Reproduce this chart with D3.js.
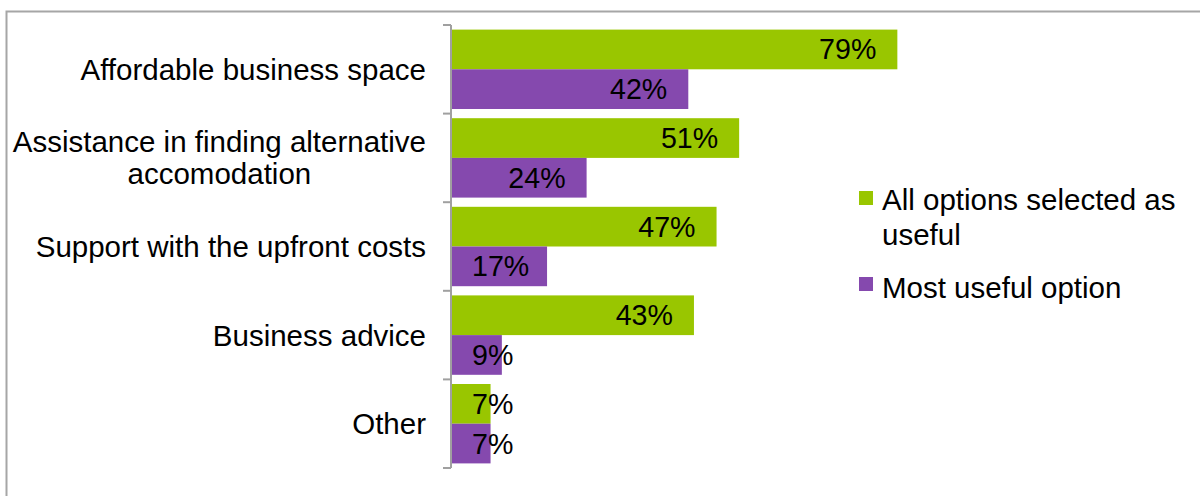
<!DOCTYPE html>
<html>
<head>
<meta charset="utf-8">
<script src="https://cdn.jsdelivr.net/npm/d3@7/dist/d3.min.js"></script>
<style>
  html, body { margin: 0; padding: 0; background: #fff; }
  svg { display: block; font-family: "Liberation Sans", Arial, sans-serif; }
</style>
</head>
<body>
<svg id="chart" width="1200" height="496"></svg>
<script>
// Survey responses: which support options businesses found useful
const categories = [
  ["Affordable business space"],
  ["Assistance in finding alternative", "accomodation"],
  ["Support with the upfront costs"],
  ["Business advice"],
  ["Other"]
];
const seriesNames = ["All options selected as useful", "Most useful option"];
const legendLines = [["All options selected as", "useful"], ["Most useful option"]];
const allOptions = [79, 51, 47, 43, 7];
const mostUseful = [42, 24, 17, 9, 7];
const seriesValues = [allOptions, mostUseful];
const colors = ["#99C600", "#8549AE"];

const svg = d3.select("#chart");

// outer frame (runs off the right and bottom edges)
svg.append("rect")
  .attr("x", 6.5).attr("y", 11.5)
  .attr("width", 1300).attr("height", 600)
  .attr("fill", "none").attr("stroke", "#A6A6A6").attr("stroke-width", 2);

const catKeys = categories.map(d => d.join(" "));
const y = d3.scaleBand().domain(catKeys).range([25, 468]).padding(0);
const bw = y.bandwidth();
const ySub = d3.scaleBand().domain(seriesNames).range([4.6, bw - 4.6]).padding(0);
const x = d3.scaleLinear().domain([0, 100]).range([451, 1016]);

// bars
const groups = svg.append("g").selectAll("g")
  .data(catKeys)
  .join("g")
  .attr("transform", d => `translate(0,${y(d)})`);

seriesNames.forEach((s, si) => {
  groups.append("rect")
    .attr("x", x(0))
    .attr("y", ySub(s))
    .attr("width", (d, i) => x(seriesValues[si][i]) - x(0))
    .attr("height", ySub.bandwidth())
    .attr("fill", colors[si]);
});

// data labels: inside end, pushed out when the bar is too short
const pad = 21;
seriesNames.forEach((s, si) => {
  groups.append("text")
    .attr("font-size", 28.6)
    .attr("fill", "#000")
    .attr("text-anchor", "end")
    .attr("y", ySub(s) + ySub.bandwidth() / 2 + 10)
    .text((d, i) => seriesValues[si][i] + "%")
    .each(function(d, i) {
      const w = this.getComputedTextLength();
      const end = x(seriesValues[si][i]);
      const right = Math.max(end - pad, x(0) + pad + w);
      d3.select(this).attr("x", right);
    });
});

// category axis with boundary ticks
const axis = svg.append("g").attr("stroke", "#A0A0A0").attr("stroke-width", 2);
axis.append("line")
  .attr("x1", x(0)).attr("x2", x(0))
  .attr("y1", y.range()[0]).attr("y2", y.range()[1]);
const bounds = catKeys.map(d => y(d)).concat([y.range()[1]]);
axis.selectAll("line.tick")
  .data(bounds)
  .join("line")
  .attr("class", "tick")
  .attr("x1", x(0) - 8).attr("x2", x(0))
  .attr("y1", d => d).attr("y2", d => d);

// category labels: block right-aligned, lines centred within the block
const labelRight = 426;
const lineH = 32;
categories.forEach((lines, ci) => {
  const g = svg.append("g");
  const t = g.selectAll("text").data(lines).join("text")
    .attr("font-size", 29.5).attr("fill", "#000")
    .text(d => d);
  let maxW = 0;
  t.each(function() { maxW = Math.max(maxW, this.getComputedTextLength()); });
  const cy = y(catKeys[ci]) + bw / 2;
  const first = cy - (lines.length - 1) * lineH / 2 + 10.5;
  t.attr("text-anchor", "middle")
    .attr("x", labelRight - maxW / 2)
    .attr("y", (d, i) => first + i * lineH);
});

// legend
const legendTop = [191, 277];
const legendText = [210, 298];
seriesNames.forEach((s, si) => {
  const g = svg.append("g");
  g.append("rect")
    .attr("x", 859).attr("y", legendTop[si])
    .attr("width", 14).attr("height", 14)
    .attr("fill", colors[si]);
  g.selectAll("text").data(legendLines[si]).join("text")
    .attr("x", 882)
    .attr("y", (d, i) => legendText[si] + i * 35)
    .attr("font-size", 29.5).attr("fill", "#000")
    .text(d => d);
});
</script>
</body>
</html>
